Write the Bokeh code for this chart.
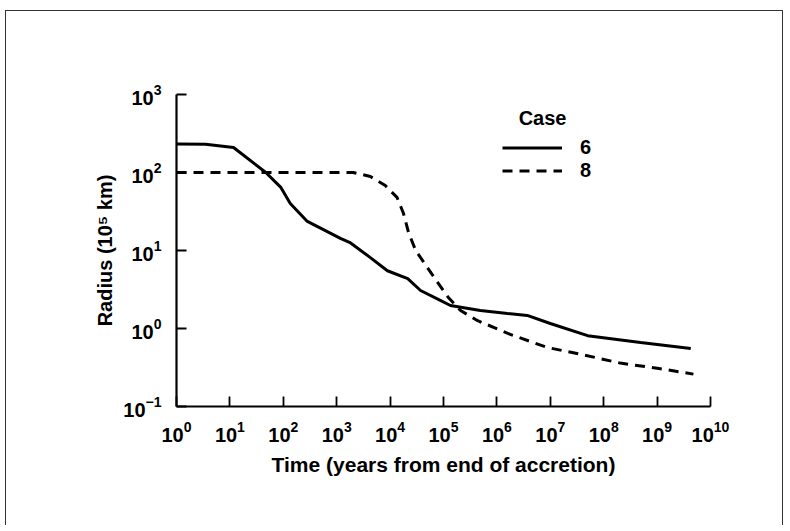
from bokeh.plotting import figure
from bokeh.models import FixedTicker, Legend, LegendItem
from bokeh.embed import file_html
from bokeh.resources import INLINE

# Case 6 (solid)
t_case6 = [1, 3.5, 11.7, 47, 89, 135, 282, 1175, 1820, 4270, 8900, 21400, 37150,
           87100, 134900, 490000, 1.58e6, 3.7e6, 1.0e7, 5.0e7, 4.9e8, 4.27e9]
r_case6 = [232, 230, 209, 100, 65, 40, 23.6, 14.3, 12.5, 8.1, 5.5, 4.37, 3.07,
           2.29, 1.97, 1.70, 1.56, 1.47, 1.16, 0.81, 0.66, 0.555]

# Case 8 (dashed)
t_case8 = [1, 2040, 4270, 8130, 13490, 17780, 22390, 30200, 50100, 77600, 123000,
           209000, 437000, 1.78e6, 8.9e6, 4.17e7, 2.04e8, 1.0e9, 4.79e9]
r_case8 = [100, 100, 89, 68, 48, 30, 16.6, 10, 6.0, 3.9, 2.5, 1.7, 1.26, 0.84,
           0.57, 0.46, 0.36, 0.31, 0.26]

x_ticks = [10 ** i for i in range(11)]
y_ticks = [0.1, 1, 10, 100, 1000]

FONT = "Liberation Sans"

p = figure(width=778, height=515, x_axis_type="log", y_axis_type="log",
           x_range=(1, 1e10), y_range=(0.1, 1000),
           output_backend="svg", toolbar_location=None,
           min_border_left=170, min_border_right=74,
           min_border_top=83, min_border_bottom=120)

p.outline_line_color = None
p.xgrid.visible = False
p.ygrid.visible = False
p.background_fill_color = "white"
p.border_fill_color = "white"

for ax in (p.xaxis[0], p.yaxis[0]):
    ax.axis_line_color = "black"
    ax.axis_line_width = 2.2
    ax.major_tick_line_color = "black"
    ax.major_tick_line_width = 1.8
    ax.major_tick_in = 10
    ax.major_tick_out = 0
    ax.minor_tick_line_color = None
    ax.major_label_text_font = FONT
    ax.major_label_text_font_style = "bold"
    ax.major_label_text_font_size = "20px"
    ax.major_label_text_color = "black"
    ax.axis_label_text_font = FONT
    ax.axis_label_text_font_style = "bold"
    ax.axis_label_text_font_size = "20px"
    ax.axis_label_text_color = "black"

p.xaxis[0].ticker = FixedTicker(ticks=x_ticks)
p.yaxis[0].ticker = FixedTicker(ticks=y_ticks)
p.xaxis[0].major_label_standoff = 14
p.yaxis[0].major_label_standoff = 15
p.xaxis[0].axis_label = "Time (years from end of accretion)"
p.yaxis[0].axis_label = "Radius (10\u2075 km)"
p.xaxis[0].axis_label_text_font_size = "21px"
p.xaxis[0].axis_label_standoff = 8
p.yaxis[0].axis_label_standoff = 4

l6 = p.line(t_case6, r_case6, line_color="black", line_width=3)
l8 = p.line(t_case8, r_case8, line_color="black", line_width=3, line_dash="10 7")

legend = Legend(items=[LegendItem(label="6", renderers=[l6]),
                       LegendItem(label="8", renderers=[l8])],
                title="\u00a0\u00a0\u00a0Case", location=(326, 224))
legend.title_text_font = FONT
legend.title_text_font_style = "bold"
legend.title_text_font_size = "20px"
legend.title_text_color = "black"
legend.title_standoff = 6
legend.label_text_font = FONT
legend.label_text_font_style = "bold"
legend.label_text_font_size = "20px"
legend.label_text_color = "black"
legend.glyph_width = 60
legend.glyph_height = 21
legend.label_height = 21
legend.label_standoff = 18
legend.spacing = 0
legend.padding = 0
legend.margin = 0
legend.border_line_color = None
legend.background_fill_alpha = 0
p.add_layout(legend)

p.styles = {"margin-left": "5px", "margin-top": "10px",
            "border-top": "1px solid #333", "border-left": "1px solid #333",
            "border-right": "1px solid #333"}

open("out.html", "w").write(file_html(p, INLINE))
